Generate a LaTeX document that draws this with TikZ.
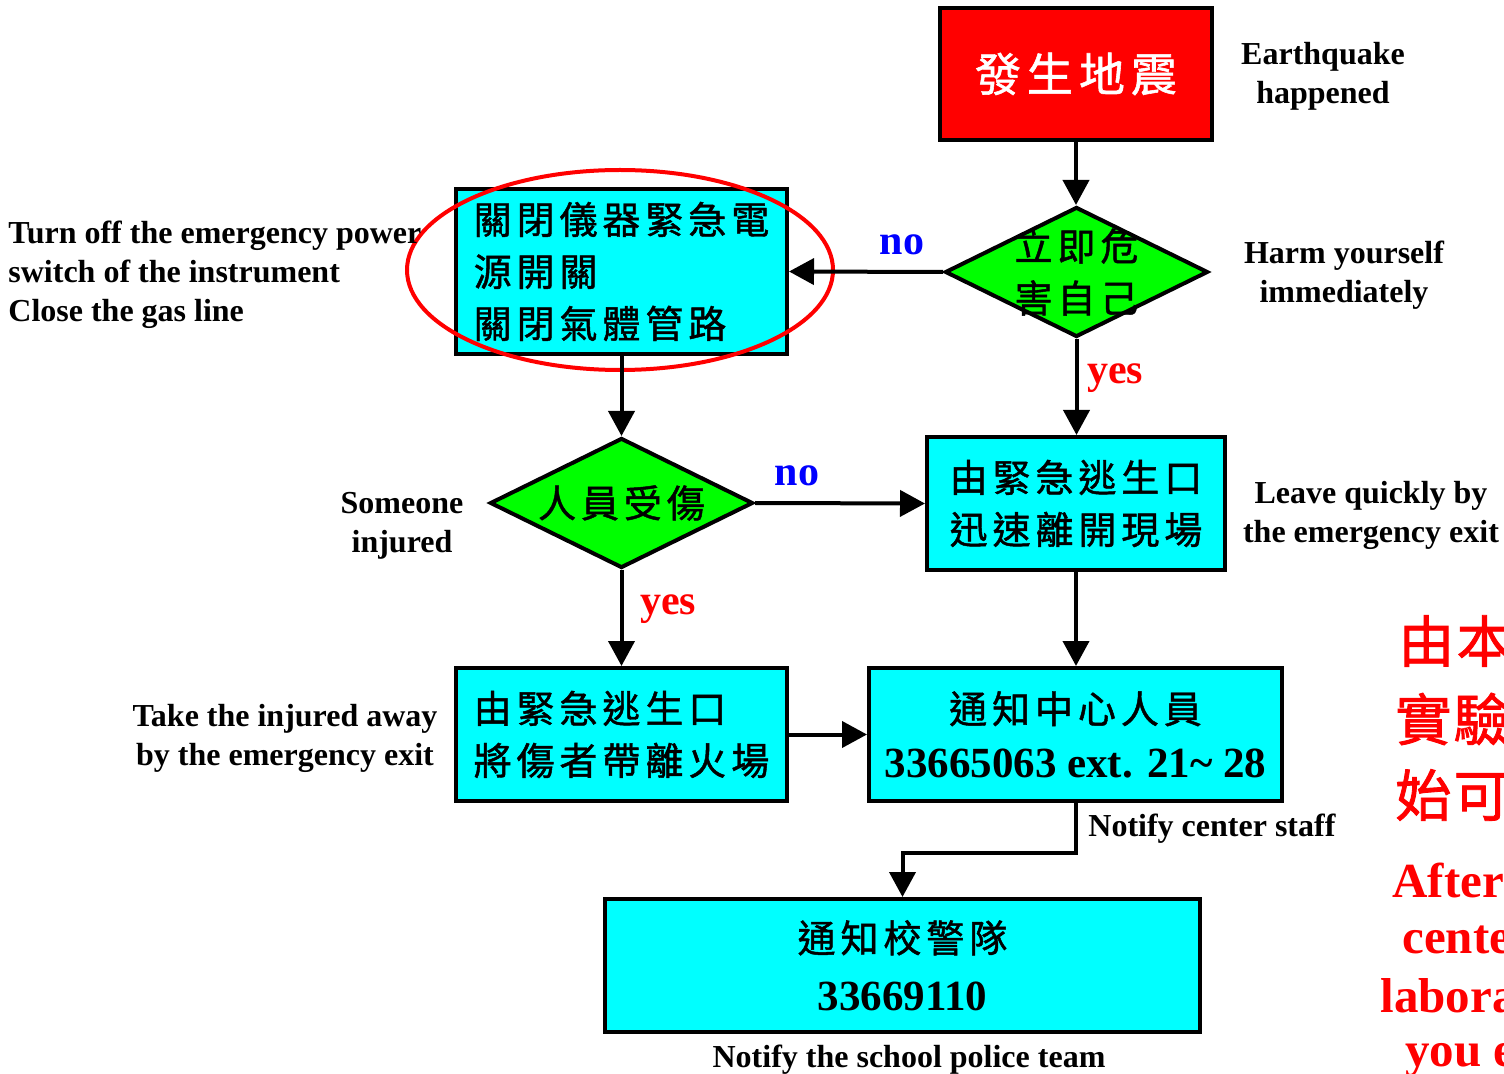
\documentclass[tikz,border=0pt]{standalone}
\usepackage{fontspec}
\setmainfont{Liberation Serif}
\newfontfamily\cjk{Noto Sans CJK TC}[LetterSpace=13, FakeBold=1.2]
\newfontfamily\cjkred{Noto Sans CJK TC}[LetterSpace=4, FakeBold=1.5]
\usetikzlibrary{shapes.geometric,arrows.meta}

\definecolor{boxcyan}{RGB}{0,255,255}
\definecolor{decgreen}{RGB}{0,255,0}
\definecolor{alarmred}{RGB}{255,0,0}
\definecolor{noblue}{RGB}{0,0,255}

\newcommand{\numfont}{\normalfont\bfseries\fontsize{21.5}{26}\selectfont}

\tikzset{
  stepbox/.style={draw=black, line width=2pt, fill=boxcyan, inner sep=0pt,
    align=center, font=\cjk\fontsize{19}{26}\selectfont},
  decision/.style={diamond, draw=black, line width=2pt, fill=decgreen,
    inner sep=0pt, minimum width=131.5pt, minimum height=65pt},
  dectext/.style={inner sep=0pt, align=center, font=\cjk\fontsize{19}{26}\selectfont},
  arr/.style={-{Triangle[length=12.5pt,width=13pt]}, line width=2pt},
  lab/.style={inner sep=0pt, align=center, font=\bfseries\fontsize{16}{19.5}\selectfont},
  answer/.style={inner sep=0pt, font=\bfseries\fontsize{21}{24}\selectfont},
  notecjk/.style={inner sep=0pt, anchor=west, text=alarmred, font=\cjkred\fontsize{28}{34}\selectfont},
  noteen/.style={inner sep=0pt, anchor=base west, text=alarmred, font=\bfseries\fontsize{24.5}{29}\selectfont}
}

\begin{document}
\begin{tikzpicture}[x=0.5pt, y=-0.5pt]
\useasboundingbox (0,0) rectangle (1504,1074);

% start: the earthquake
\node[draw=black, line width=2pt, fill=alarmred, minimum width=136pt, minimum height=66pt,
      inner sep=0pt, text=white, font=\cjk\fontsize{23}{28}\selectfont] (quake) at (1076,74) {發生地震};

% decision: harm to oneself
\node[decision] (harm) at (1076.5,272) {};
\node[dectext] (harmtxt) at (harm.center) {立即危\\害自己};

% shut down instrument power and gas
\node[stepbox, align=left, minimum width=165.5pt, minimum height=82.5pt] (shut) at (621.5,271.5)
  {關閉儀器緊急電\\源開關\\關閉氣體管路};

% leave through the emergency exit
\node[stepbox, minimum width=149pt, minimum height=66.5pt] (leave) at (1076,503.5)
  {由緊急逃生口\\迅速離開現場};

% decision: someone injured
\node[decision] (hurt) at (621.5,503) {};
\node[dectext] (hurttxt) at (hurt.center) {人員受傷};

% carry the injured away
\node[stepbox, align=left, minimum width=165.5pt, minimum height=66.5pt] (carry) at (621.5,734.5)
  {由緊急逃生口\\將傷者帶離火場};

% notify center staff
\node[stepbox, minimum width=206.5pt, minimum height=66.5pt] (center) at (1075.5,734.5)
  {通知中心人員\\[1pt]{\numfont 33665063 ext. 21\textasciitilde{} 28}};

% notify the school police
\node[stepbox, minimum width=297.5pt, minimum height=66.5pt] (police) at (902.5,965.5)
  {通知校警隊\\[3pt]{\numfont 33669110}};

% highlight around the shut-down step
\node[draw=alarmred, line width=2pt, ellipse, minimum width=213pt, minimum height=100pt,
      inner sep=0pt] (ring) at (620,270) {};

% connectors
\coordinate (elbow) at (1076,853);
\draw[arr] (quake.south) -- (quake.south |- harm.north);
\draw[arr] (harm.west) -- (shut.east);
\draw[arr] (harm.south) -- (harm.south |- leave.north);
\draw[arr] (shut.south) -- (hurt.north);
\draw[arr] (hurt.east) -- (leave.west);
\draw[arr] (hurt.south) -- (carry.north);
\draw[arr] (carry.east) -- (center.west);
\draw[arr] (leave.south) -- (leave.south |- center.north);
\draw[arr] (center.south -| elbow) -- (elbow) -| (police.north);

% branch labels
\node[answer, text=noblue] (no1) at (902,245) {no};
\node[answer, text=alarmred] (yes1) at (1115,378) {yes};
\node[answer, text=noblue] (no2) at (797,476) {no};
\node[answer, text=alarmred] (yes2) at (668,609) {yes};

% English captions
\node[lab] (capquake) at (1323,76) {Earthquake\\happened};
\node[lab] (capharm) at (1344,275) {Harm yourself\\immediately};
\node[lab, align=left, anchor=west] (capshut) at (8,275)
  {Turn off the emergency power\\switch of the instrument\\Close the gas line};
\node[lab] (capleave) at (1371,515) {Leave quickly by\\the emergency exit};
\node[lab] (caphurt) at (402,526) {Someone\\injured};
\node[lab] (capcarry) at (285,738) {Take the injured away\\by the emergency exit};
\node[lab, anchor=west] (capcenter) at (1088,829) {Notify center staff};
\node[lab] (cappolice) at (909,1060) {Notify the school police team};

% note at the right edge
\begin{scope}
\clip (0,0) rectangle (1504,1074);
\node[notecjk] (note1) at (1398,641) {由本};
\node[notecjk] (note2) at (1395,719) {實驗};
\node[notecjk] (note3) at (1395,795) {始可};
\node[noteen] (note4) at (1392,897) {After};
\node[noteen] (note5) at (1402,953) {cente};
\node[noteen] (note6) at (1380,1012) {labora};
\node[noteen] (note7) at (1405,1066) {you e};
\end{scope}
\end{tikzpicture}
\end{document}
